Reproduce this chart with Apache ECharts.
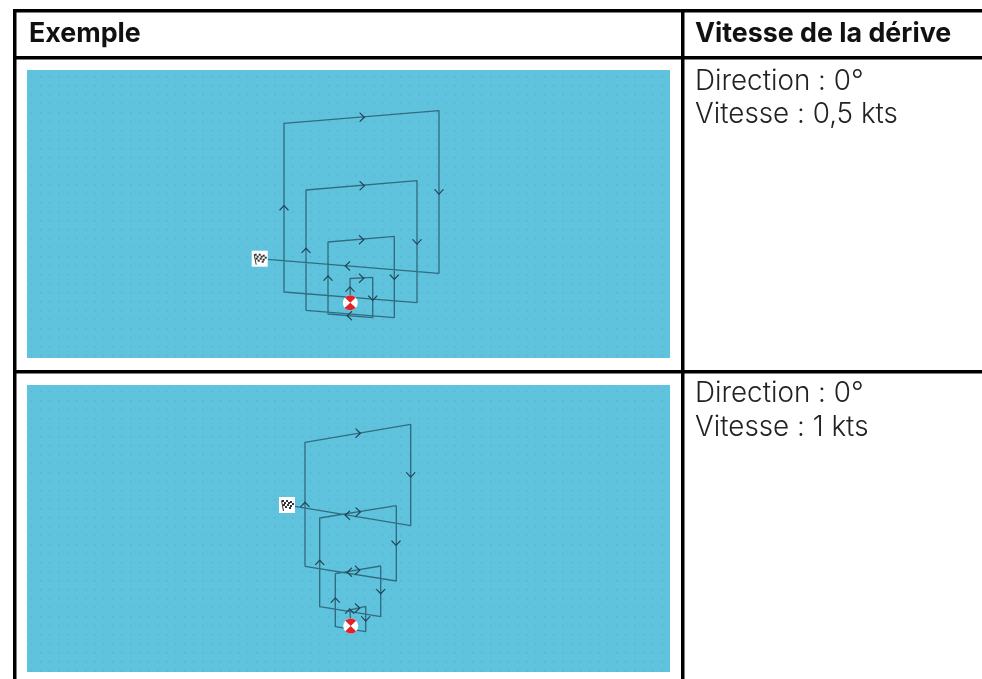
<!DOCTYPE html>
<html><head><meta charset="utf-8">
<style>html,body{margin:0;padding:0;background:#fff}#c{width:982px;height:679px}</style>
<script src="https://cdn.jsdelivr.net/npm/echarts@6/dist/echarts.min.js"></script>
</head><body><div id="c"></div>
<script>
// Data: track, chevrons, markers
const headers = ['Exemple', 'Vitesse de la dérive'];
const notes1 = ['Direction : 0°', 'Vitesse : 0,5 kts'];
const notes2 = ['Direction : 0°', 'Vitesse : 1 kts'];

const track1 = [[350.3,302.7],[350,278.5],[372.7,277.3],[372.7,317.7],[328,314],[328,242],[394.3,236.3],[394.3,317.7],[306,310.3],[306,190],[417,180.7],[417,302.7],[284,292],[284,123.3],[439,110.7],[439,273.3],[267.7,259.3]];
const right1 = [[362.3,117.3],[362.3,185.7],[361.7,239.7],[361.7,278.3]];
const down1  = [[439,192],[417,242],[394.3,277.3],[372.7,298.3]];
const up1    = [[284,207.7],[306,250.3],[328,278],[350,289]];
const left1  = [[347.3,266],[349.3,315.7]];
const ring1  = [[350.3,302.7]];
const flag1  = [[259.7,258.7]];

const track2 = [[350.7,626],[350,610],[365.7,606.3],[365.7,631.7],[335.3,626.7],[335.3,573.7],[380.7,566],[380.7,616.7],[319.7,606.7],[319.7,518],[396.3,505.7],[396.3,581],[305,566.3],[305,442.3],[410.7,424.3],[410.7,525.7],[295,506.3]];
const right2 = [[358.3,433.3],[358.3,512],[357.7,570.3],[357.7,608]];
const down2  = [[410.7,475],[396,543.3],[380.7,591.7],[365.7,619]];
const up2    = [[305,504.3],[319.7,562.3],[335.3,600],[349.7,611]];
const left2  = [[347.3,515.3],[349.3,572.3]];
const ring2  = [[350.7,626]];
const flag2  = [[287,505]];

const panels = [
  {left:27, top:70,  right:670, bottom:358},
  {left:27, top:385, right:670, bottom:672}
];

const SEA = '#60c3de', LINE = '#2b6477';

// faint dotted texture of the sea
function seaPattern(){
  const c = document.createElement('canvas');
  c.width = 27; c.height = 27;
  const g = c.getContext('2d');
  g.fillStyle = SEA; g.fillRect(0,0,27,27);
  g.fillStyle = 'rgba(80,130,150,0.26)';
  [[4,4],[13,4],[22,4],[4,13],[13,13],[22,13],[4,22],[13,22],[22,22]].forEach(p=>g.fillRect(p[0],p[1],1.5,1.5));
  return c;
}
const pattern = {image: seaPattern(), repeat: 'repeat'};

const chevron = 'path://M-5,4 L0,-1.5 L5,4 L4,4.6 L0,0.4 L-4,4.6 Z';
function chev(data, rot, gi){
  return {type:'scatter', xAxisIndex:gi, yAxisIndex:gi, data, symbol:chevron, symbolSize:[10,6], symbolRotate:rot,
    itemStyle:{color:'#1f4656', opacity:1}, silent:true, z:5};
}
function track(data, gi){
  return {type:'line', xAxisIndex:gi, yAxisIndex:gi, data, symbol:'none', smooth:false,
    lineStyle:{color:LINE, width:1.35, opacity:.9}, silent:true, z:4};
}
function renderRing(p, api){
  const c = api.coord([api.value(0), api.value(1)]), r = 7.5, x=c[0], y=c[1];
  return {type:'group', children:[
    {type:'circle', shape:{cx:x,cy:y,r}, style:{fill:'#ffffff'}},
    {type:'sector', shape:{cx:x,cy:y,r:r,r0:0,startAngle:-Math.PI*0.76,endAngle:-Math.PI*0.24}, style:{fill:'#e0242c'}},
    {type:'sector', shape:{cx:x,cy:y,r:r,r0:0,startAngle:Math.PI*0.24,endAngle:Math.PI*0.76}, style:{fill:'#e0242c'}}
  ]};
}
function renderFlag(p, api){
  const c = api.coord([api.value(0), api.value(1)]), x=c[0], y=c[1];
  const kids = [
    {type:'rect', shape:{x:x-8,y:y-8,width:16,height:16}, style:{fill:'#ffffff'}},
    {type:'line', shape:{x1:x-5.5,y1:y-4.5,x2:x-3.5,y2:y+6}, style:{stroke:'#333',lineWidth:1}}
  ];
  [[-5,-5],[-1,-5],[3,-4],[-3,-3],[1,-3],[5,-2],[-4,-1],[0,-1],[3,0],[-2,1],[2,2]].forEach(d=>{
    kids.push({type:'rect', shape:{x:x+d[0],y:y+d[1],width:2,height:2}, style:{fill:'#333'}});
  });
  return {type:'group', children:kids};
}
function pointMark(data, render, gi){
  return {type:'custom', xAxisIndex:gi, yAxisIndex:gi, data, renderItem:render, silent:true, z:6,
    clip:false, encode:{x:0,y:1}};
}
function line(x,y,w,h){ return {type:'rect', shape:{x,y,width:w,height:h}, style:{fill:'#000'}, silent:true}; }

const font = 'Inter';
function txt(text,left,top,bold){
  return {text, left, top, padding:0, textStyle:{fontFamily:font, fontSize:bold?26.8:27.8, fontWeight:bold?700:300, color:bold?'#111':'#222', lineHeight:30}};
}

const chart = echarts.init(document.getElementById('c'), null, {renderer:'canvas'});
chart.setOption({
  animation:false,
  backgroundColor:'#fff',
  title:[
    txt(headers[0],29,19,true), txt(headers[1],695,19,true),
    txt(notes1[0],695,67,false), txt(notes1[1],695,100,false),
    txt(notes2[0],695,379,false), txt(notes2[1],695,413,false)
  ],
  grid: panels.map(p=>({left:p.left, top:p.top, width:p.right-p.left, height:p.bottom-p.top, show:true,
    backgroundColor:pattern, borderWidth:0})),
  xAxis: panels.map((p,i)=>({type:'value', gridIndex:i, min:p.left, max:p.right, show:false})),
  yAxis: panels.map((p,i)=>({type:'value', gridIndex:i, min:p.top, max:p.bottom, inverse:true, show:false})),
  series:[
    track(track1,0), chev(right1,-90,0), chev(down1,180,0), chev(up1,0,0), chev(left1,90,0),
    pointMark(ring1,renderRing,0), pointMark(flag1,renderFlag,0),
    track(track2,1), chev(right2,-90,1), chev(down2,180,1), chev(up2,0,1), chev(left2,90,1),
    pointMark(ring2,renderRing,1), pointMark(flag2,renderFlag,1)
  ],
  graphic:[
    line(13,9,969,3.5), line(13,56,969,3.5), line(13,370,969,3.5),
    line(13,9,3.5,670), line(681,9,3.5,670)
  ]
});
</script></body></html>
